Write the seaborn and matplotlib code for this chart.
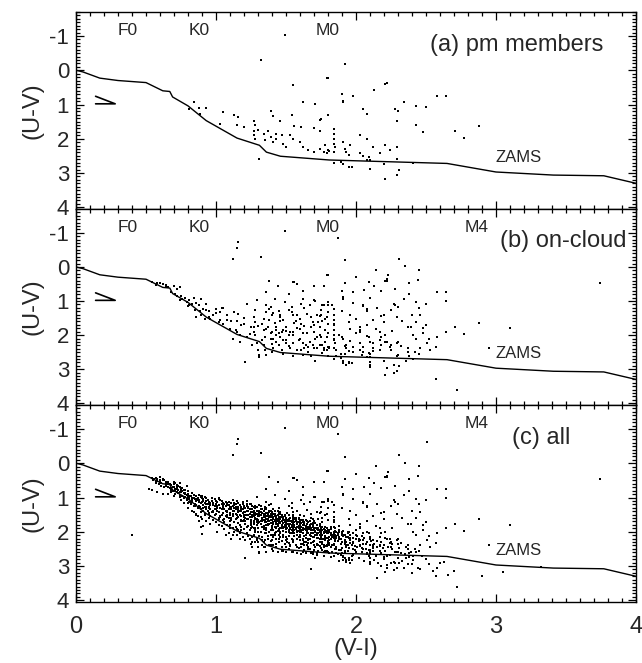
import numpy as np
import pandas as pd
import seaborn as sns
import matplotlib.pyplot as plt
from matplotlib.ticker import MultipleLocator

# Zero-age main sequence in the (V-I, U-V) plane
zams_vi = [0.00, 0.05, 0.17, 0.30, 0.50, 0.62, 0.67, 0.69, 0.80, 0.93, 1.15,
           1.31, 1.36, 1.46, 1.81, 2.65, 3.00, 3.41, 3.77, 4.00]
zams_uv = [0.00, 0.05, 0.23, 0.30, 0.36, 0.60, 0.62, 0.78, 1.04, 1.47, 1.98,
           2.19, 2.39, 2.51, 2.62, 2.72, 2.97, 3.06, 3.08, 3.30]

# Spectral-type markers along the top of each panel
sptype_names = ["F0", "K0", "M0", "M4"]
sptype_vi = [0.37, 0.88, 1.80, 2.86]

# Proper-motion members
pm_members = [
    (1.49, -1.04), (1.32, -0.29), (1.79, 0.23), (1.55, 0.43), (1.62, 0.94),
    (1.71, 0.99), (0.845, 0.92), (0.81, 1.13), (0.88, 1.11), (0.93, 1.10),
    (0.886, 1.28), (1.05, 1.21), (1.13, 1.32), (1.16, 1.37), (1.03, 1.57),
    (1.15, 1.59), (1.20, 1.66), (1.27, 1.47), (1.28, 1.61), (1.30, 1.73),
    (1.27, 1.76), (1.39, 1.18), (1.41, 1.35), (1.46, 1.47), (1.54, 1.32),
    (1.74, 1.44), (1.56, 1.64), (1.61, 1.66), (1.70, 1.69), (1.74, 1.76),
    (1.80, 1.32), (1.37, 1.76), (1.34, 1.86), (1.43, 1.86), (1.47, 1.90),
    (1.43, 2.00), (1.41, 2.10), (1.53, 1.90), (1.55, 2.00), (1.60, 2.10),
    (1.62, 2.24), (1.66, 2.34), (1.70, 2.39), (1.74, 2.29), (1.78, 2.19),
    (1.80, 2.34), (1.50, 2.24), (1.48, 2.14), (1.39, 1.95), (1.35, 2.05),
    (1.28, 2.00), (1.27, 1.90), (1.31, 2.58),
    (1.92, -0.19), (1.80, 0.23), (2.22, 0.36), (2.21, 0.41), (2.13, 0.57),
    (1.90, 0.70), (1.91, 0.89), (1.91, 0.94), (1.98, 0.74), (2.58, 0.74),
    (2.64, 0.74), (2.34, 0.94), (2.28, 1.13), (2.30, 1.18), (2.43, 1.03),
    (2.50, 1.08), (2.05, 1.13), (2.08, 1.28), (2.29, 1.47), (1.75, 1.42),
    (2.43, 1.61), (2.48, 1.79), (2.71, 1.76), (2.77, 1.98), (2.88, 1.63),
    (1.84, 1.71), (1.84, 1.86), (1.84, 2.00), (1.84, 2.14), (1.85, 2.24),
    (1.84, 2.39), (2.03, 1.90), (2.08, 2.02), (2.12, 2.24), (2.21, 2.19),
    (2.24, 2.34), (2.29, 2.24), (2.17, 2.43), (1.91, 2.10), (1.96, 2.17),
    (1.92, 2.31), (1.93, 2.39), (1.95, 2.48), (1.77, 2.39), (1.79, 2.43),
    (1.81, 2.37), (2.03, 2.43), (2.05, 2.50), (2.09, 2.53), (2.10, 2.63),
    (1.84, 2.70), (1.89, 2.68), (1.91, 2.75), (1.95, 2.82), (1.97, 2.82),
    (2.10, 2.87), (2.08, 2.63), (2.20, 2.75), (2.29, 2.60), (2.31, 2.92),
    (2.29, 3.06), (2.21, 3.18), (2.41, 2.70),
]

# Further stars projected on the cloud
cloud_extra = [
    (0.54, 0.43), (0.58, 0.47), (0.62, 0.50), (0.64, 0.54), (0.66, 0.59),
    (0.70, 0.56), (0.72, 0.64), (0.74, 0.59), (0.68, 0.74), (0.71, 0.79),
    (0.72, 0.85), (0.75, 0.85), (0.78, 0.91), (0.74, 0.98), (0.79, 1.03),
    (0.81, 0.98), (0.83, 1.08), (0.86, 1.05), (0.89, 0.95), (0.88, 1.13),
    (0.91, 1.22), (0.93, 1.27), (0.86, 1.47), (0.89, 1.42), (0.95, 1.47),
    (0.96, 1.54), (0.92, 1.52), (0.98, 1.42), (1.00, 1.22), (1.04, 1.20),
    (1.03, 1.32), (1.02, 1.61), (1.05, 1.66), (1.08, 1.57), (1.11, 1.59),
    (1.10, 1.81), (1.14, 1.86), (1.15, 1.92), (1.17, 2.00), (1.12, 2.10),
    (1.17, 2.20), (1.22, 2.05), (1.24, 1.96), (1.27, 1.90), (1.21, 2.78),
    (1.29, 2.24), (1.33, 2.15), (1.34, 2.29), (1.35, 2.44), (1.36, 2.59),
    (1.31, 2.63),
    (1.16, -0.72), (1.15, -0.57), (1.12, -0.23), (1.56, 0.43), (1.58, 0.49),
    (1.77, 0.56), (1.36, 0.74), (1.29, 0.98), (1.36, 1.13), (1.42, 0.93),
    (1.49, 1.03), (1.54, 1.17), (1.61, 1.08), (1.67, 1.13), (1.70, 0.98),
    (1.76, 1.13), (1.80, 1.03), (1.36, 1.32), (1.40, 1.42), (1.34, 1.52),
    (1.46, 1.42), (1.48, 1.56), (1.55, 1.42), (1.60, 1.52), (1.65, 1.37),
    (1.72, 1.42), (1.78, 1.52), (1.80, 1.66), (1.33, 1.66), (1.36, 1.81),
    (1.40, 1.90), (1.43, 1.76), (1.48, 1.86), (1.52, 2.00), (1.55, 1.90),
    (1.60, 1.81), (1.62, 1.95), (1.68, 1.76), (1.70, 1.90), (1.74, 2.00),
    (1.78, 1.85), (1.80, 1.95), (1.39, 2.10), (1.43, 2.20), (1.46, 2.05),
    (1.50, 2.15), (1.55, 2.24), (1.59, 2.15), (1.64, 2.29), (1.67, 2.20),
    (1.71, 2.10), (1.74, 2.29), (1.78, 2.20), (1.81, 2.34), (1.41, 2.39),
    (1.47, 2.44), (1.53, 2.39), (1.61, 2.44), (1.66, 2.49), (1.72, 2.39),
    (1.77, 2.44), (1.71, 2.76),
    (1.87, -0.84), (2.31, -0.23), (2.35, -0.02), (2.45, 0.08), (2.14, 0.08),
    (2.23, 0.25), (2.22, 0.40), (2.44, 0.37), (2.09, 0.43), (2.38, 0.47),
    (1.92, 0.47), (2.06, 0.69), (2.64, 1.01), (3.74, 0.47),
    (1.77, 1.13), (1.80, 1.11), (1.83, 1.13), (1.84, 1.22), (1.84, 1.42),
    (1.84, 1.56), (1.84, 1.66), (1.79, 1.47), (1.75, 1.27), (2.05, 1.15),
    (2.08, 1.24), (2.00, 1.52), (2.18, 1.44), (2.20, 1.42), (2.27, 1.08),
    (2.34, 0.93), (2.46, 1.42), (2.39, 1.76), (2.50, 1.71), (2.58, 2.05),
    (2.64, 1.90), (3.10, 1.79), (2.95, 2.39),
    (1.96, 1.81), (2.03, 1.76), (2.03, 1.86), (1.88, 2.00), (1.90, 2.05),
    (1.84, 2.10), (1.79, 2.05), (1.75, 2.05), (1.81, 2.39), (1.86, 2.44),
    (1.89, 2.54), (1.93, 2.29), (1.98, 2.34), (2.03, 2.24), (2.09, 2.05),
    (2.10, 2.20), (2.12, 2.39), (2.04, 2.59), (2.10, 2.54), (2.10, 2.78),
    (2.17, 1.90), (2.18, 2.05), (2.21, 2.00), (2.17, 2.15), (2.22, 2.20),
    (2.25, 2.29), (2.30, 2.20), (2.30, 2.59), (2.27, 2.88), (2.22, 2.97),
    (2.27, 3.12), (2.37, 1.76), (2.41, 2.00), (2.43, 2.10), (2.42, 2.49),
    (2.37, 2.39), (2.37, 2.49), (2.36, 2.76), (2.46, 2.39), (2.51, 2.24),
    (2.57, 2.34), (2.53, 2.44), (2.57, 3.28), (2.72, 3.61), (2.10, 2.93),
    (1.93, 2.88), (1.91, 2.83), (1.95, 2.78),
    (1.38, 1.22), (1.45, 1.30), (1.52, 1.25), (1.58, 1.40), (1.63, 1.20),
    (1.68, 1.48), (1.73, 1.62), (1.46, 1.60), (1.50, 1.75), (1.57, 1.60),
    (1.63, 1.72), (1.69, 1.62), (1.76, 1.60), (1.42, 1.65), (1.38, 1.55),
    (1.45, 1.95), (1.50, 1.88), (1.58, 1.78), (1.65, 1.95), (1.72, 2.05),
    (1.76, 2.30), (1.45, 2.30), (1.52, 2.32), (1.58, 2.45), (1.63, 2.38),
    (1.69, 2.30), (1.76, 2.52), (1.40, 2.50), (1.48, 2.55), (1.55, 2.60),
    (1.62, 2.58), (1.68, 2.62), (1.80, 2.60), (1.86, 2.62), (1.92, 2.55),
    (1.98, 2.50), (2.05, 2.35), (2.12, 2.48), (2.18, 2.30), (2.25, 2.45),
    (2.32, 2.32), (2.38, 2.62), (2.45, 2.55), (2.52, 2.12), (1.95, 1.62),
    (2.00, 1.95), (2.08, 1.70), (2.14, 1.82), (2.20, 1.62), (2.26, 1.88),
    (2.33, 1.60), (2.40, 1.40), (2.48, 1.95), (1.96, 1.40), (2.12, 1.55),
    (2.25, 1.25), (2.15, 1.20), (1.90, 1.30), (1.98, 1.05), (2.10, 0.90),
    (2.18, 0.72), (2.28, 0.65), (2.38, 0.80), (2.45, 1.20), (1.62, 0.70),
    (1.70, 0.55), (1.52, 0.80), (1.44, 0.55), (1.38, 0.40), (2.00, 0.30),
    (1.22, 1.10), (1.28, 1.25), (1.20, 1.50), (1.25, 1.75), (1.18, 1.70),
    (1.08, 1.40), (1.00, 1.35), (0.95, 1.30), (0.85, 1.25), (0.80, 1.15),
    (0.76, 0.95), (0.64, 0.60), (0.60, 0.48), (0.57, 0.52), (1.30, 2.45),
    (1.26, 2.30), (1.40, 2.25),
]

# Remaining stars of the full sample
field_extra = [
    (0.40, 2.09), (0.52, 0.74), (0.58, 0.85), (0.62, 0.90), (0.89, 1.87),
    (0.90, 2.06), (1.31, 2.60), (1.68, 3.10), (2.51, -0.62),
    (0.56, 0.45), (0.58, 0.52), (0.60, 0.40), (0.61, 0.58), (0.63, 0.49),
    (0.64, 0.66), (0.66, 0.55), (0.67, 0.72), (0.68, 0.63), (0.69, 0.80),
    (0.70, 0.69), (0.71, 0.58), (0.72, 0.76), (0.73, 0.66), (0.74, 0.92),
    (0.75, 0.80), (0.76, 0.71), (0.77, 0.88), (0.78, 0.98), (0.78, 0.79),
    (0.79, 0.65), (0.80, 1.05), (0.80, 0.90), (0.54, 0.78), (0.66, 0.91),
    (0.70, 0.97), (0.75, 1.07),
    (0.81, 0.97), (0.82, 1.12), (0.83, 0.86), (0.84, 1.02), (0.85, 1.18),
    (0.86, 0.95), (0.87, 1.08), (0.88, 1.25), (0.88, 0.92), (0.89, 1.15),
    (0.90, 1.02), (0.91, 1.30), (0.91, 1.10), (0.92, 0.98), (0.93, 1.20),
    (0.94, 1.38), (0.94, 1.08), (0.95, 1.28), (0.96, 1.15), (0.97, 1.02),
    (0.97, 1.42), (0.98, 1.22), (0.99, 1.33), (1.00, 1.10), (0.84, 1.42),
    (0.87, 1.55), (0.90, 1.62), (0.93, 1.70), (0.96, 1.78), (0.99, 1.51),
    (1.01, 1.25), (1.01, 1.40), (1.02, 1.05), (1.03, 1.55), (1.04, 1.18),
    (1.05, 1.45), (1.05, 1.28), (1.06, 1.62), (1.07, 1.12), (1.07, 1.38),
    (1.08, 1.50), (1.08, 1.22), (1.09, 1.33), (1.10, 1.68), (1.10, 1.45),
    (1.11, 1.15), (1.11, 1.28), (1.12, 1.55), (1.12, 1.38), (1.13, 1.72),
    (1.13, 1.22), (1.14, 1.48), (1.14, 1.35), (1.15, 1.10), (1.16, 1.42),
    (1.16, 1.28), (1.17, 1.80), (1.17, 1.52), (1.18, 1.35), (1.18, 1.65),
    (1.19, 1.20), (1.19, 1.45), (1.20, 1.58), (1.20, 1.32), (1.02, 1.80),
    (1.06, 1.92), (1.09, 2.05), (1.12, 1.88), (1.15, 2.10), (1.18, 1.95),
    (1.21, 1.42), (1.21, 1.70), (1.22, 1.25), (1.22, 1.52), (1.23, 1.38),
    (1.23, 1.62), (1.24, 1.18), (1.24, 1.48), (1.25, 1.80), (1.25, 1.33),
    (1.26, 1.58), (1.26, 1.42), (1.27, 1.68), (1.27, 1.28), (1.28, 1.52),
    (1.28, 1.88), (1.29, 1.38), (1.29, 1.62), (1.30, 1.48), (1.30, 1.75),
    (1.31, 1.22), (1.31, 1.55), (1.32, 1.42), (1.32, 1.68), (1.33, 1.35),
    (1.33, 1.85), (1.34, 1.58), (1.34, 1.48), (1.35, 1.72), (1.35, 1.28),
    (1.36, 1.62), (1.36, 1.95), (1.37, 1.45), (1.37, 1.55), (1.38, 1.78),
    (1.38, 1.38), (1.39, 1.65), (1.39, 1.52), (1.40, 1.88), (1.40, 1.42),
    (1.22, 2.05), (1.26, 2.15), (1.30, 2.02), (1.33, 2.25), (1.37, 2.12),
    (1.24, 1.95), (1.28, 2.30), (1.35, 2.05), (1.39, 2.40), (1.21, 1.60),
    (1.25, 1.65), (1.29, 1.72), (1.33, 1.60), (1.37, 1.70), (1.23, 1.32),
    (1.27, 1.45), (1.31, 1.38), (1.35, 1.50), (1.39, 1.58),
    (1.41, 1.58), (1.41, 1.72), (1.42, 1.48), (1.42, 1.85), (1.43, 1.65),
    (1.43, 1.55), (1.44, 1.78), (1.44, 1.40), (1.45, 1.68), (1.45, 1.92),
    (1.46, 1.58), (1.46, 1.75), (1.47, 1.50), (1.47, 1.85), (1.48, 1.65),
    (1.48, 1.98), (1.49, 1.72), (1.49, 1.55), (1.50, 1.82), (1.50, 1.62),
    (1.51, 1.45), (1.51, 1.90), (1.52, 1.70), (1.52, 1.78), (1.53, 1.60),
    (1.53, 2.05), (1.54, 1.85), (1.54, 1.68), (1.55, 1.75), (1.55, 1.52),
    (1.56, 1.95), (1.56, 1.80), (1.57, 1.65), (1.57, 1.88), (1.58, 1.72),
    (1.58, 2.10), (1.59, 1.82), (1.59, 1.60), (1.60, 1.92), (1.60, 1.75),
    (1.42, 2.10), (1.45, 2.22), (1.48, 2.15), (1.51, 2.30), (1.54, 2.20),
    (1.57, 2.38), (1.60, 2.25), (1.43, 2.35), (1.47, 2.45), (1.52, 2.50),
    (1.56, 2.05), (1.44, 1.62), (1.46, 1.88), (1.49, 1.80), (1.51, 1.68),
    (1.53, 1.92), (1.55, 1.62), (1.58, 1.98), (1.60, 1.68), (1.41, 1.95),
    (1.47, 1.70), (1.53, 1.78), (1.59, 1.88),
    (1.61, 1.85), (1.61, 2.02), (1.62, 1.72), (1.63, 1.80), (1.63, 2.12),
    (1.64, 1.88), (1.64, 1.65), (1.65, 2.00), (1.65, 1.78), (1.66, 1.92),
    (1.66, 2.20), (1.67, 1.85), (1.67, 1.70), (1.68, 2.05), (1.68, 1.95),
    (1.69, 1.80), (1.69, 2.15), (1.70, 2.28), (1.71, 1.98), (1.71, 1.75),
    (1.72, 2.08), (1.72, 1.88), (1.73, 2.18), (1.73, 1.95), (1.74, 1.82),
    (1.74, 2.02), (1.75, 2.30), (1.75, 1.92), (1.76, 2.10), (1.76, 1.85),
    (1.77, 2.00), (1.77, 2.22), (1.78, 1.95), (1.78, 2.12), (1.79, 1.88),
    (1.79, 2.40), (1.80, 2.05), (1.80, 2.18), (1.62, 2.35), (1.66, 2.45),
    (1.70, 2.52), (1.74, 2.42), (1.78, 2.55), (1.64, 2.60), (1.72, 2.68),
    (1.68, 1.60), (1.76, 1.72), (1.63, 1.55),
    (1.81, 1.95), (1.81, 2.25), (1.82, 2.08), (1.82, 1.85), (1.83, 2.15),
    (1.83, 2.40), (1.84, 2.00), (1.85, 2.28), (1.85, 1.90), (1.86, 2.12),
    (1.86, 2.50), (1.87, 2.05), (1.88, 2.20), (1.88, 1.82), (1.89, 2.35),
    (1.90, 2.10), (1.90, 2.62), (1.91, 1.98), (1.92, 2.25), (1.93, 2.45),
    (1.94, 2.15), (1.95, 2.02), (1.96, 2.32), (1.97, 2.70), (1.98, 2.18),
    (1.99, 2.42), (2.00, 2.08), (1.84, 2.72), (1.88, 2.85), (1.92, 2.78),
    (1.96, 2.92), (2.00, 2.60),
    (2.02, 2.22), (2.04, 2.48), (2.05, 2.05), (2.07, 2.35), (2.08, 2.65),
    (2.10, 2.15), (2.12, 2.42), (2.13, 2.82), (2.15, 2.28), (2.17, 2.55),
    (2.18, 3.00), (2.20, 2.38), (2.22, 2.72), (2.24, 2.20), (2.26, 2.50),
    (2.28, 2.90), (2.30, 2.35), (2.32, 2.62), (2.34, 3.05), (2.36, 2.45),
    (2.38, 2.75), (2.40, 2.95), (2.43, 2.60), (2.46, 3.10), (2.50, 2.80),
    (2.55, 3.15), (2.60, 2.90), (2.66, 3.25), (2.90, 3.30), (3.05, 3.18),
    (3.32, 3.04), (2.15, 3.35), (2.40, 3.20),
    # main band of the full sample
    (0.55, 0.50), (0.57, 0.42), (0.59, 0.62), (0.60, 0.55), (0.62, 0.45),
    (0.63, 0.70), (0.64, 0.58), (0.65, 0.62), (0.57, 0.58), (0.61, 0.66),
    (0.66, 0.68), (0.67, 0.60), (0.68, 0.78), (0.69, 0.70), (0.70, 0.62),
    (0.70, 0.82), (0.71, 0.75), (0.72, 0.68), (0.73, 0.88), (0.73, 0.78),
    (0.74, 0.70), (0.74, 0.85), (0.75, 0.75), (0.68, 0.85), (0.71, 0.90),
    (0.76, 0.82), (0.76, 0.95), (0.77, 0.78), (0.77, 1.00), (0.78, 0.86),
    (0.79, 0.92), (0.79, 1.08), (0.80, 0.82), (0.80, 0.98), (0.81, 1.05),
    (0.82, 0.95), (0.82, 1.20), (0.83, 1.00), (0.83, 1.12), (0.84, 0.92),
    (0.84, 1.25), (0.85, 1.05), (0.77, 1.15), (0.80, 1.30), (0.83, 1.38),
    (0.86, 1.10), (0.86, 1.22), (0.87, 1.00), (0.87, 1.30), (0.88, 1.08),
    (0.89, 0.98), (0.89, 1.35), (0.90, 1.12), (0.91, 1.05), (0.91, 1.40),
    (0.92, 1.15), (0.92, 1.28), (0.93, 1.35), (0.94, 1.18), (0.95, 1.12),
    (0.95, 1.45), (0.86, 1.50), (0.89, 1.58), (0.92, 1.48), (0.95, 1.60),
    (0.88, 1.70), (0.91, 1.82), (0.90, 0.95), (0.93, 1.00),
    (0.96, 1.22), (0.96, 1.35), (0.97, 1.10), (0.98, 1.15), (0.98, 1.40),
    (0.99, 1.05), (0.99, 1.25), (1.00, 1.18), (1.00, 1.48), (1.01, 1.12),
    (1.01, 1.30), (1.02, 1.22), (1.02, 1.42), (1.03, 1.08), (1.04, 1.35),
    (1.04, 1.50), (1.05, 1.15), (0.96, 1.55), (0.98, 1.65), (1.00, 1.72),
    (1.02, 1.62), (1.04, 1.82), (1.01, 2.00), (1.02, 1.00), (1.04, 1.10),
    (1.06, 1.20), (1.06, 1.35), (1.07, 1.25), (1.07, 1.55), (1.08, 1.15),
    (1.08, 1.42), (1.09, 1.22), (1.09, 1.60), (1.10, 1.28), (1.10, 1.52),
    (1.11, 1.35), (1.11, 1.65), (1.12, 1.25), (1.12, 1.48), (1.13, 1.40),
    (1.13, 1.15), (1.14, 1.28), (1.14, 1.62), (1.15, 1.35), (1.15, 1.50),
    (1.06, 1.72), (1.08, 1.80), (1.10, 1.90), (1.14, 1.85), (1.07, 2.10),
    (1.11, 2.20), (1.13, 2.00), (1.09, 1.12), (1.12, 1.08), (1.14, 1.20),
    (1.16, 1.32), (1.16, 1.58), (1.17, 1.22), (1.17, 1.40), (1.18, 1.28),
    (1.18, 1.55), (1.19, 1.35), (1.19, 1.68), (1.20, 1.25), (1.20, 1.42),
    (1.21, 1.30), (1.21, 1.50), (1.21, 1.78), (1.22, 1.38), (1.22, 1.62),
    (1.23, 1.28), (1.23, 1.50), (1.24, 1.35), (1.24, 1.58), (1.25, 1.42),
    (1.25, 1.72), (1.16, 1.75), (1.18, 1.85), (1.20, 1.92), (1.22, 1.85),
    (1.17, 2.05), (1.19, 2.15), (1.21, 2.25), (1.23, 2.12), (1.25, 2.35),
    (1.16, 1.15), (1.19, 1.12), (1.22, 1.18), (1.25, 1.20), (1.18, 1.38),
    (1.20, 1.50), (1.23, 1.82), (1.25, 1.88), (1.16, 1.95), (1.24, 2.20),
    (1.26, 1.35), (1.26, 1.50), (1.27, 1.40), (1.27, 1.55), (1.27, 1.75),
    (1.28, 1.32), (1.28, 1.45), (1.28, 1.62), (1.29, 1.48), (1.29, 1.80),
    (1.30, 1.38), (1.30, 1.55), (1.30, 1.65), (1.31, 1.45), (1.31, 1.72),
    (1.32, 1.35), (1.32, 1.52), (1.32, 1.78), (1.33, 1.45), (1.33, 1.70),
    (1.34, 1.40), (1.34, 1.65), (1.34, 1.82), (1.35, 1.58), (1.35, 1.68),
    (1.26, 1.85), (1.28, 1.95), (1.30, 1.88), (1.32, 2.00), (1.34, 1.92),
    (1.27, 2.10), (1.29, 2.20), (1.31, 2.12), (1.33, 2.38), (1.35, 2.25),
    (1.26, 1.25), (1.29, 1.28), (1.32, 1.25), (1.35, 1.35), (1.29, 1.68),
    (1.31, 1.52), (1.33, 1.62), (1.26, 2.45), (1.30, 2.30), (1.34, 2.45),
    (1.36, 1.45), (1.36, 1.55), (1.36, 1.72), (1.37, 1.50), (1.37, 1.62),
    (1.37, 1.80), (1.38, 1.42), (1.38, 1.58), (1.38, 1.68), (1.39, 1.48),
    (1.39, 1.75), (1.40, 1.52), (1.40, 1.65), (1.40, 1.82), (1.41, 1.48),
    (1.41, 1.62), (1.41, 1.78), (1.42, 1.55), (1.42, 1.68), (1.43, 1.60),
    (1.43, 1.72), (1.43, 1.88), (1.44, 1.52), (1.44, 1.68), (1.44, 1.82),
    (1.45, 1.58), (1.45, 1.75), (1.36, 1.90), (1.38, 2.00), (1.40, 1.95),
    (1.42, 2.05), (1.44, 1.98), (1.37, 2.20), (1.39, 2.28), (1.41, 2.15),
    (1.43, 2.45), (1.45, 2.30), (1.36, 1.35), (1.39, 1.38), (1.42, 1.40),
    (1.45, 1.45), (1.38, 2.40), (1.41, 2.55), (1.44, 2.60), (1.36, 2.05),
    (1.45, 2.10),
    (1.46, 1.62), (1.46, 1.72), (1.47, 1.58), (1.47, 1.80), (1.48, 1.62),
    (1.48, 1.75), (1.48, 1.90), (1.49, 1.65), (1.49, 1.85), (1.50, 1.60),
    (1.50, 1.72), (1.50, 1.92), (1.51, 1.65), (1.51, 1.78), (1.52, 1.62),
    (1.52, 1.82), (1.52, 1.95), (1.53, 1.68), (1.53, 1.88), (1.54, 1.72),
    (1.54, 1.80), (1.54, 1.95), (1.55, 1.68), (1.55, 1.82), (1.46, 2.00),
    (1.48, 2.08), (1.50, 2.02), (1.52, 2.12), (1.54, 2.05), (1.47, 2.28),
    (1.49, 2.35), (1.51, 2.22), (1.53, 2.42), (1.55, 2.30), (1.46, 1.48),
    (1.49, 1.50), (1.52, 1.52), (1.55, 1.58), (1.47, 2.55), (1.50, 2.60),
    (1.54, 2.58), (1.46, 2.15), (1.50, 2.45),
    (1.56, 1.72), (1.56, 1.85), (1.57, 1.70), (1.57, 1.92), (1.58, 1.75),
    (1.58, 1.85), (1.58, 2.00), (1.59, 1.72), (1.59, 1.98), (1.60, 1.78),
    (1.60, 2.02), (1.61, 1.75), (1.61, 1.95), (1.62, 1.80), (1.62, 1.88),
    (1.62, 2.05), (1.63, 1.78), (1.63, 1.92), (1.64, 1.82), (1.64, 1.95),
    (1.64, 2.08), (1.65, 1.85), (1.65, 2.05), (1.56, 2.12), (1.58, 2.20),
    (1.60, 2.15), (1.62, 2.22), (1.64, 2.18), (1.57, 2.40), (1.59, 2.48),
    (1.61, 2.35), (1.63, 2.52), (1.65, 2.40), (1.56, 1.60), (1.59, 1.62),
    (1.62, 1.65), (1.65, 1.70), (1.58, 2.62), (1.61, 2.65), (1.64, 2.62),
    (1.60, 1.70), (1.63, 2.30),
    (1.66, 1.85), (1.66, 2.05), (1.67, 1.80), (1.67, 1.92), (1.67, 2.10),
    (1.68, 1.88), (1.68, 2.12), (1.69, 1.85), (1.69, 1.95), (1.69, 2.05),
    (1.70, 1.92), (1.70, 2.15), (1.71, 1.88), (1.71, 2.02), (1.72, 1.92),
    (1.72, 2.18), (1.73, 1.90), (1.73, 2.05), (1.74, 1.95), (1.74, 2.08),
    (1.74, 2.22), (1.75, 1.98), (1.75, 2.15), (1.66, 2.25), (1.68, 2.32),
    (1.70, 2.28), (1.72, 2.35), (1.74, 2.30), (1.67, 2.50), (1.69, 2.58),
    (1.71, 2.45), (1.73, 2.55), (1.75, 2.48), (1.66, 1.72), (1.69, 1.75),
    (1.72, 1.80), (1.75, 1.85), (1.69, 2.65), (1.72, 2.62), (1.73, 2.40),
    (1.76, 1.95), (1.76, 2.20), (1.77, 1.92), (1.77, 2.05), (1.78, 2.00),
    (1.78, 2.25), (1.79, 1.98), (1.79, 2.18), (1.80, 2.02), (1.80, 2.28),
    (1.81, 2.00), (1.81, 2.15), (1.82, 2.05), (1.82, 2.20), (1.83, 2.10),
    (1.84, 2.05), (1.84, 2.18), (1.85, 2.10), (1.85, 2.22), (1.76, 2.35),
    (1.78, 2.42), (1.80, 2.38), (1.82, 2.45), (1.84, 2.35), (1.77, 2.60),
    (1.79, 2.55), (1.81, 2.62), (1.83, 2.58), (1.85, 2.50), (1.76, 1.85),
    (1.79, 1.90), (1.82, 1.92), (1.85, 1.98), (1.77, 2.72), (1.82, 2.75),
    (1.86, 2.02), (1.86, 2.18), (1.87, 2.10), (1.87, 2.28), (1.88, 2.15),
    (1.89, 2.22), (1.90, 2.02), (1.90, 2.30), (1.91, 2.12), (1.92, 2.08),
    (1.92, 2.35), (1.93, 2.15), (1.94, 2.05), (1.94, 2.40), (1.95, 2.18),
    (1.86, 2.45), (1.88, 2.52), (1.90, 2.48), (1.92, 2.58), (1.94, 2.55),
    (1.87, 2.65), (1.91, 2.70), (1.93, 2.82), (1.88, 1.95), (1.94, 2.00),
    (1.96, 2.10), (1.96, 2.25), (1.97, 2.40), (1.98, 2.05), (1.98, 2.30),
    (1.99, 2.52), (2.00, 2.22), (2.01, 2.12), (2.01, 2.45), (2.02, 2.28),
    (2.03, 2.38), (2.04, 2.60), (2.05, 2.25), (2.06, 2.18), (2.07, 2.50),
    (2.08, 2.30), (2.09, 2.72), (2.10, 2.40), (1.98, 2.68), (2.02, 2.78),
    (2.06, 2.85), (2.10, 2.55), (2.04, 2.12),
    (2.11, 2.28), (2.12, 2.55), (2.13, 2.35), (2.14, 2.70), (2.15, 2.45),
    (2.16, 2.90), (2.17, 2.38), (2.18, 2.62), (2.19, 2.48), (2.20, 2.80),
    (2.21, 2.55), (2.22, 3.05), (2.23, 2.45), (2.24, 2.68), (2.25, 2.90),
    (2.26, 2.35), (2.28, 2.60), (2.30, 2.78), (2.31, 2.48), (2.33, 2.85),
    (2.35, 2.65), (2.37, 2.95), (2.39, 2.58), (2.41, 2.82), (2.44, 3.05),
    (2.47, 2.70), (2.52, 2.95), (2.58, 3.05), (2.63, 2.88), (2.70, 3.15),
]

panel_titles = ["(a) pm members", "(b) on-cloud", "(c) all"]
title_right = [3.77, 3.93, 3.53]


def to_frame(pairs):
    vi, uv = zip(*pairs)
    return pd.DataFrame({"V-I": vi, "U-V": uv})


samples = [
    to_frame(pm_members),
    to_frame(pm_members + cloud_extra),
    to_frame(pm_members + cloud_extra + field_extra),
]
zams = pd.DataFrame({"V-I": zams_vi, "U-V": zams_uv})

sns.set_theme(style="ticks")
plt.rcParams["font.family"] = ["Liberation Sans", "DejaVu Sans"]

W, H = 642, 663
fig = plt.figure(figsize=(W / 100, H / 100), dpi=100)
left, right = 76 / W, 636 / W
edges = [12, 209, 405, 602]

for i, df in enumerate(samples):
    top_px, bot_px = edges[i], edges[i + 1]
    ax = fig.add_axes([left, 1 - bot_px / H, right - left, (bot_px - top_px) / H])

    sns.lineplot(data=zams, x="V-I", y="U-V", sort=False, estimator=None,
                 color="black", lw=1.0, ax=ax)
    sns.scatterplot(data=df, x="V-I", y="U-V", s=2.4, marker="s",
                    color="black", linewidth=0, ax=ax)

    ax.set_xlim(0, 4)
    ax.set_ylim(4.05, -1.70)

    ax.xaxis.set_major_locator(MultipleLocator(1))
    ax.xaxis.set_minor_locator(MultipleLocator(0.1))
    ax.yaxis.set_major_locator(MultipleLocator(1))
    ax.yaxis.set_minor_locator(MultipleLocator(0.1))
    ax.tick_params(which="both", direction="in", top=True, right=True,
                   width=0.9, color="black")
    ax.tick_params(which="major", length=6)
    ax.tick_params(which="minor", length=3)
    ax.tick_params(axis="y", labelsize=16, pad=5)
    ax.tick_params(axis="x", labelsize=17, pad=10)
    ax.set_yticks([-1, 0, 1, 2, 3, 4])
    ax.set_yticklabels(["-1", "0", "1", "2", "3", "4"])
    for sp in ax.spines.values():
        sp.set_linewidth(1.0)
        sp.set_color("black")

    ax.set_ylabel("(U-V)", fontsize=17, labelpad=4)
    if i < 2:
        ax.set_xlabel("")
        ax.tick_params(axis="x", labelbottom=False)
    else:
        ax.set_xlabel("(V-I)", fontsize=17, labelpad=0)

    names = sptype_names if i > 0 else sptype_names[:3]
    for name, vi in zip(names, sptype_vi):
        ax.text(vi, -1.15, name, fontsize=12.5, ha="center", va="center")

    ax.text(title_right[i], -0.75, panel_titles[i], fontsize=17,
            ha="right", va="center")
    ax.text(3.0, 2.55, "ZAMS", fontsize=12, ha="left", va="center")

    # reddening vector
    ax.plot([0.14, 0.28, 0.14], [0.76, 0.98, 0.98], color="black", lw=1.2)

fig.savefig("out.png", dpi=100)
